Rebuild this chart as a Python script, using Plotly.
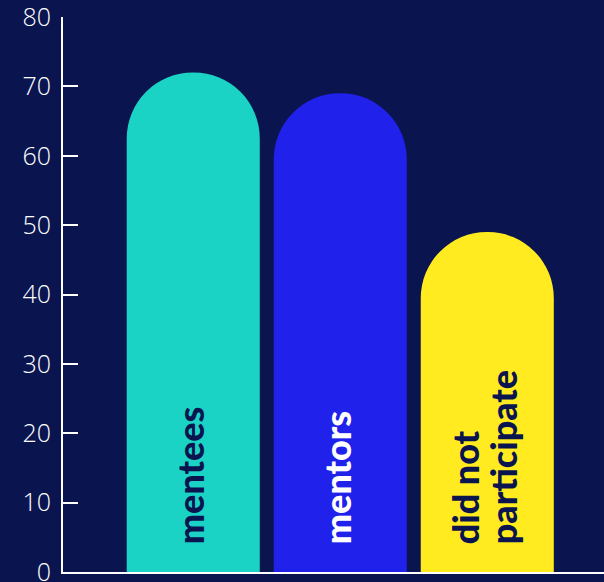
import plotly.graph_objects as go

categories = ["mentees", "mentors", "did not participate"]
values = [72, 69, 49]
bar_colors = ["#1BD3C5", "#2121EC", "#FFEB1F"]
label_lines = [["mentees"], ["mentors"], ["did not", "participate"]]
label_colors = ["#0A1550", "#FFFFFF", "#0A1550"]
y_ticks = [0, 10, 20, 30, 40, 50, 60, 70, 80]

BG = "#0A1550"

fig = go.Figure()
fig.add_trace(go.Bar(
    x=categories,
    y=values,
    width=0.905,
    marker=dict(color=bar_colors, line=dict(width=0), cornerradius="50%"),
    hoverinfo="skip",
))

annotations = []
for i, (cat, lines, col) in enumerate(zip(categories, label_lines, label_colors)):
    n = len(lines)
    for j, line in enumerate(lines):
        shift = (j - (n - 1) / 2) * 38 - 3
        annotations.append(dict(
            x=cat, y=0, xref="x", yref="y",
            text=line, showarrow=False, textangle=-90,
            xanchor="center", yanchor="bottom",
            xshift=shift, yshift=26,
            font=dict(family="Lato", size=36, color=col, weight=900),
        ))

fig.update_layout(
    width=604, height=582,
    margin=dict(l=63, r=0, t=17, b=10),
    paper_bgcolor=BG, plot_bgcolor=BG,
    showlegend=False,
    annotations=annotations,
    xaxis=dict(
        type="category",
        range=[-0.886, 2.794],
        showticklabels=False, ticks="",
        showgrid=False, zeroline=False,
        showline=True, linecolor="white", linewidth=2,
        automargin=False,
    ),
    yaxis=dict(
        range=[0, 80],
        tickvals=y_ticks,
        ticks="inside", ticklen=15, tickwidth=2, tickcolor="white",
        showline=True, linecolor="white", linewidth=2,
        showgrid=False, zeroline=False,
        tickfont=dict(family="Open Sans", size=25, color="white", weight=300),
        ticklabelstandoff=5,
        ticklabeloverflow="allow",
        automargin=False,
    ),
)

fig.write_html("out.html")
